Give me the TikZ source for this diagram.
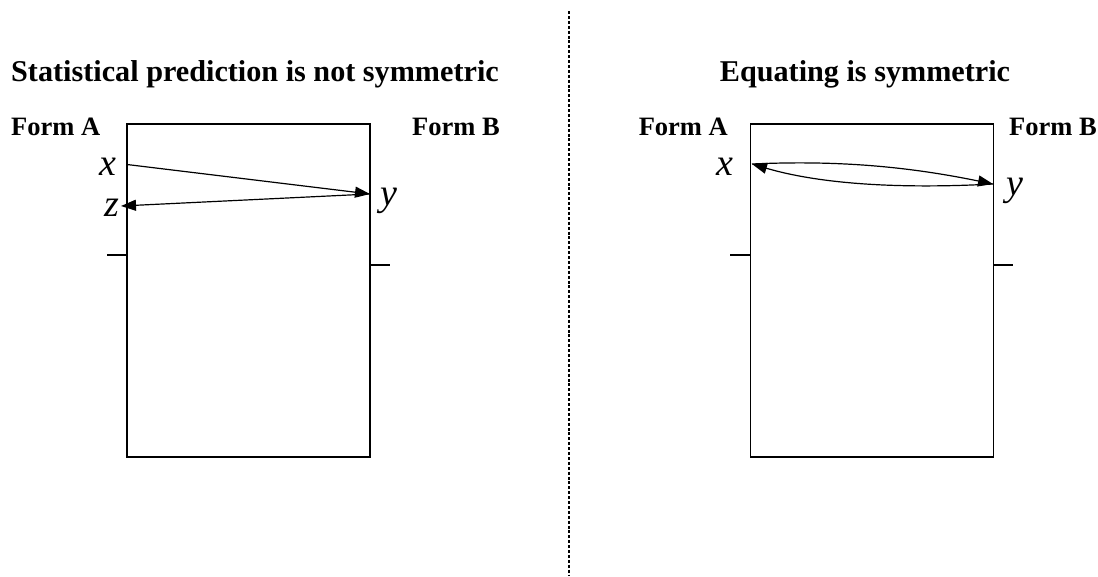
\documentclass[tikz,border=0pt]{standalone}
\usepackage{fontspec}
\setmainfont{Liberation Serif}
\usetikzlibrary{arrows.meta}
\tikzset{
  ttl/.style={inner sep=0pt, anchor=base, font=\fontsize{30.2}{32}\selectfont\bfseries},
  formlbl/.style={inner sep=0pt, font=\fontsize{26.5}{30}\selectfont\bfseries},
  varlbl/.style={inner sep=0pt, font=\fontsize{38}{40}\selectfont\itshape},
  box/.style={draw, line width=1.2pt, minimum width=243pt, minimum height=333pt, inner sep=0pt},
  tick/.style={line width=1.2pt},
  conn/.style={line width=1.2pt, -{Triangle[length=15pt,width=11pt]}},
  divider/.style={line width=2.5pt, dash pattern=on 3pt off 1.9pt}
}
\begin{document}
\begin{tikzpicture}[x=1pt,y=-1pt]
\useasboundingbox (0,0) rectangle (1098,576);
% divider
\coordinate (dtop) at (569,11);
\coordinate (dbot) at (569,576);
\draw[divider] (dtop) -- (dbot);
% titles
\node[ttl] (t1) at (255,81) {Statistical prediction is not symmetric};
\node[ttl] (t2) at (865,81) {Equating is symmetric};
% form labels
\node[formlbl, anchor=base west] (fa1) at (11,135) {Form A};
\node[formlbl, anchor=base west] (fb1) at (412,135) {Form B};
\node[formlbl, anchor=base east] (fa2) at (728,135) {Form A};
\node[formlbl, anchor=base east] (fb2) at (1097,135) {Form B};
% boxes
\node[box] (b1) at (248.5,290.5) {};
\node[box] (b2) at (872,290.5) {};
% ticks
\coordinate (t1a) at (107,255); \coordinate (t1b) at (127,255);
\coordinate (t1c) at (370,265); \coordinate (t1d) at (390,265);
\coordinate (t2a) at (730,255); \coordinate (t2b) at (751,255);
\coordinate (t2c) at (993,265); \coordinate (t2d) at (1013,265);
\draw[tick] (t1a) -- (t1b);
\draw[tick] (t1c) -- (t1d);
\draw[tick] (t2a) -- (t2b);
\draw[tick] (t2c) -- (t2d);
% variable labels left
\node[varlbl, anchor=base east] (lx1) at (117,175) {x};
\node[varlbl, anchor=base east] (lz1) at (119,216) {z};
\node[varlbl, anchor=base west] (ly1) at (380,205) {y};
% variable labels right
\node[varlbl, anchor=base east] (lx2) at (734,175) {x};
\node[varlbl, anchor=base west] (ly2) at (1006,195) {y};
% left arrows
\coordinate (px1) at (127,164.5);
\coordinate (py1) at (370,194);
\coordinate (pz1) at (121,206);
\draw[conn] (px1) -- (py1);
\draw[conn] (py1) -- (pz1);
% right arrows
\coordinate (px2) at (752,164);
\coordinate (py2) at (993,184);
\draw[conn] (px2) .. controls (840,160) and (910,167) .. (py2);
\draw[conn] (py2) .. controls (920,188) and (830,187) .. (px2);
\end{tikzpicture}
\end{document}
